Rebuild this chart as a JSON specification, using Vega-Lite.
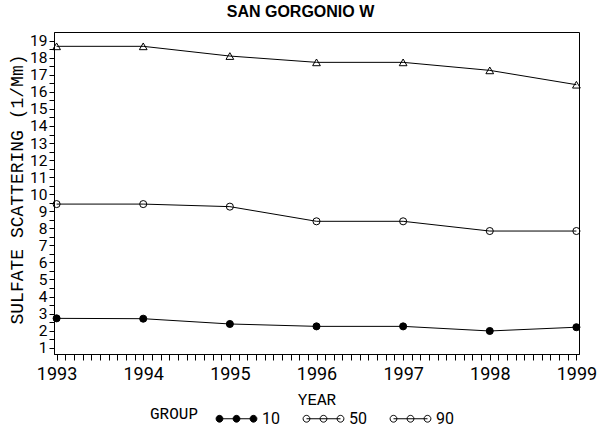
{
  "$schema": "https://vega.github.io/schema/vega-lite/v6.json",
  "autosize": {"type": "none"},
  "padding": {"left": 54, "top": 32, "right": 21, "bottom": 76},
  "width": 525,
  "height": 322,
  "background": "white",
  "title": {
    "text": "SAN GORGONIO W",
    "font": "Liberation Sans",
    "fontSize": 16,
    "fontWeight": "bold",
    "color": "black",
    "anchor": "middle",
    "baseline": "alphabetic",
    "dx": -16,
    "offset": -1
  },
  "config": {
    "view": {"stroke": "black", "strokeWidth": 1},
    "axis": {
      "domainColor": "black",
      "tickColor": "black",
      "labelColor": "black",
      "titleColor": "black",
      "grid": false
    }
  },
  "data": {
    "values": [
      {"year": 1993, "group": 10, "value": 2.72},
      {"year": 1994, "group": 10, "value": 2.70},
      {"year": 1995, "group": 10, "value": 2.39},
      {"year": 1996, "group": 10, "value": 2.25},
      {"year": 1997, "group": 10, "value": 2.25},
      {"year": 1998, "group": 10, "value": 1.98},
      {"year": 1999, "group": 10, "value": 2.20},
      {"year": 1993, "group": 50, "value": 9.42},
      {"year": 1994, "group": 50, "value": 9.42},
      {"year": 1995, "group": 50, "value": 9.27},
      {"year": 1996, "group": 50, "value": 8.41},
      {"year": 1997, "group": 50, "value": 8.41},
      {"year": 1998, "group": 50, "value": 7.84},
      {"year": 1999, "group": 50, "value": 7.84},
      {"year": 1993, "group": 90, "value": 18.67},
      {"year": 1994, "group": 90, "value": 18.67},
      {"year": 1995, "group": 90, "value": 18.10},
      {"year": 1996, "group": 90, "value": 17.73},
      {"year": 1997, "group": 90, "value": 17.73},
      {"year": 1998, "group": 90, "value": 17.26},
      {"year": 1999, "group": 90, "value": 16.42}
    ]
  },
  "encoding": {
    "x": {
      "field": "year",
      "type": "quantitative",
      "scale": {"domain": [1992.97, 1999.03], "nice": false, "zero": false},
      "axis": {
        "title": "YEAR",
        "titleFont": "Liberation Mono",
        "titleFontSize": 16,
        "titleFontWeight": "normal",
        "titleBaseline": "alphabetic",
        "titleY": 50,
        "tickCount": 100,
        "tickMinStep": 0.01,
        "labelOverlap": false,
        "labelFlush": false,
        "labelBound": false,
        "values": [1993,1993.1,1993.2,1993.3,1993.4,1993.5,1993.6,1993.7,1993.8,1993.9,
                   1994,1994.1,1994.2,1994.3,1994.4,1994.5,1994.6,1994.7,1994.8,1994.9,
                   1995,1995.1,1995.2,1995.3,1995.4,1995.5,1995.6,1995.7,1995.8,1995.9,
                   1996,1996.1,1996.2,1996.3,1996.4,1996.5,1996.6,1996.7,1996.8,1996.9,
                   1997,1997.1,1997.2,1997.3,1997.4,1997.5,1997.6,1997.7,1997.8,1997.9,
                   1998,1998.1,1998.2,1998.3,1998.4,1998.5,1998.6,1998.7,1998.8,1998.9,
                   1999],
        "format": "d",
        "labelExpr": "abs(datum.value - round(datum.value)) < 0.01 ? datum.label : ''",
        "labelFont": "Roboto",
        "labelFontSize": 18,
        "labelPadding": 5,
        "tickSize": 6,
        "tickWidth": 1,
        "encode": {
          "ticks": {
            "y2": {"condition": {"test": "abs(datum.value - round(datum.value)) < 0.01", "value": 6}, "value": 3}
          }
        }
      }
    },
    "y": {
      "field": "value",
      "type": "quantitative",
      "scale": {"domain": [0.63, 19.51], "nice": false, "zero": false},
      "axis": {
        "title": "SULFATE SCATTERING (1/Mm)",
        "titleFont": "Liberation Mono",
        "titleFontSize": 18,
        "titleFontWeight": "normal",
        "titleBaseline": "middle",
        "titleAlign": "center",
        "titleX": -37,
        "titleY": 157,
        "tickCount": 100,
        "tickMinStep": 0.01,
        "labelOverlap": false,
        "labelFlush": false,
        "values": [1,1.5,2,2.5,3,3.5,4,4.5,5,5.5,6,6.5,7,7.5,8,8.5,9,9.5,10,10.5,11,11.5,12,12.5,13,13.5,14,14.5,15,15.5,16,16.5,17,17.5,18,18.5,19],
        "format": "d",
        "labelExpr": "datum.value == round(datum.value) ? datum.label : ''",
        "labelFont": "Roboto",
        "labelFontSize": 15.5,
        "labelPadding": 2,
        "tickSize": 5,
        "tickWidth": 1,
        "encode": {
          "ticks": {
            "x2": {"condition": {"test": "datum.value == round(datum.value)", "value": -5}, "value": -3}
          }
        }
      }
    }
  },
  "layer": [
    {
      "mark": {"type": "line", "color": "black", "strokeWidth": 1},
      "encoding": {
        "detail": {"field": "group", "type": "nominal"}
      }
    },
    {
      "transform": [{"filter": "datum.group != 90"}],
      "mark": {"type": "point", "filled": true, "stroke": "black", "strokeWidth": 1, "opacity": 1, "size": 50},
      "encoding": {
        "fill": {
          "field": "group",
          "type": "nominal",
          "scale": {"domain": [10, 50, 90], "range": ["black", "transparent", "transparent"]},
          "legend": {
            "title": "GROUP",
            "orient": "none",
            "legendX": 96,
            "legendY": 369,
            "direction": "horizontal",
            "titleOrient": "left",
            "titleFont": "Liberation Mono",
            "titleFontSize": 16,
            "titleFontWeight": "normal",
            "titleColor": "black",
            "titleBaseline": "middle",
            "titlePadding": 20,
            "labelFont": "Roboto",
            "labelFontSize": 16,
            "labelColor": "black",
            "labelOffset": 8,
            "columnPadding": 21,
            "padding": 0,
            "symbolSize": 1156,
            "symbolType": "M-1,0H1M-1.2,0a0.2,0.2 0 1,0 0.4,0a0.2,0.2 0 1,0 -0.4,0M-0.2,0a0.2,0.2 0 1,0 0.4,0a0.2,0.2 0 1,0 -0.4,0M0.8,0a0.2,0.2 0 1,0 0.4,0a0.2,0.2 0 1,0 -0.4,0",
            "symbolStrokeColor": "black",
            "symbolStrokeWidth": 1,
            "encode": {
              "symbols": {
                "size": {"value": 1156},
                "stroke": {"value": "black"},
                "strokeWidth": {"value": 1}
              }
            }
          }
        }
      }
    },
    {
      "transform": [{"filter": "datum.group == 90"}],
      "mark": {"type": "point", "shape": "triangle-up", "filled": false, "stroke": "black", "strokeWidth": 1, "opacity": 1, "size": 60}
    }
  ]
}
